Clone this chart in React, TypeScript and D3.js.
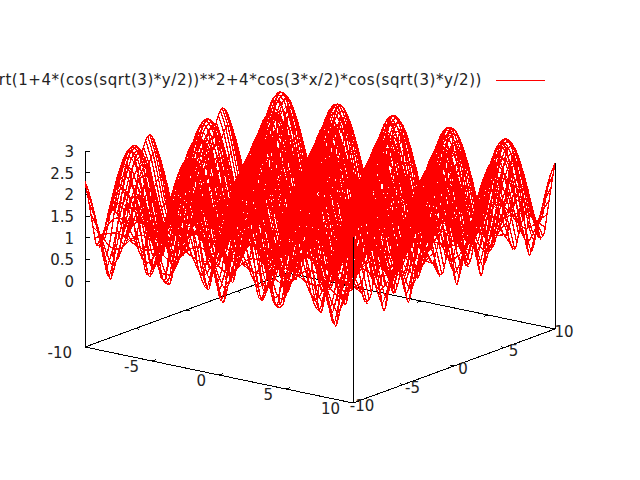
import React, { useRef, useEffect } from 'react';
import * as d3 from 'd3';

const title = 'sqrt(1+4*(cos(sqrt(3)*y/2))**2+4*cos(3*x/2)*cos(sqrt(3)*y/2))';

const xTicks = [-10, -5, 0, 5, 10];
const yTicks = [-10, -5, 0, 5, 10];
const zTicks = [0, 0.5, 1, 1.5, 2, 2.5, 3];

// sample positions for the x >= 0, y >= 0 quarter, the surface mirrors around both axes
const gridSteps = [0, 0.4, 0.8, 1.2, 1.6, 2, 2.4, 2.8, 3.2, 3.6, 4, 4.4, 4.8, 5.2, 5.6, 6, 6.4, 6.8, 7.2, 7.6, 8, 8.4, 8.8, 9.2, 9.6, 10];
// y positions of the extra isolines that run between the grid rows
const betweenSteps = [0.2, 0.6, 1, 1.4, 1.8, 2.2, 2.6, 3, 3.4, 3.8, 4.2, 4.6, 5, 5.4, 5.8, 6.2, 6.6, 7, 7.4, 7.8, 8.2, 8.6, 9, 9.4, 9.8];

// one row per y step, one column per x step
const zRows = [
  [3.00, 2.88, 2.54, 2.02, 1.43, 1.02, 1.19, 1.74, 2.31, 2.75, 2.97, 2.97, 2.73, 2.28, 1.71, 1.16, 1.03, 1.46, 2.06, 2.56, 2.89, 3.00, 2.87, 2.52, 1.99, 1.40],
  [2.88, 2.77, 2.43, 1.92, 1.33, 0.90, 1.08, 1.64, 2.21, 2.63, 2.86, 2.85, 2.61, 2.18, 1.61, 1.05, 0.91, 1.36, 1.95, 2.45, 2.78, 2.88, 2.75, 2.41, 1.89, 1.30],
  [2.54, 2.43, 2.12, 1.63, 1.05, 0.57, 0.78, 1.36, 1.91, 2.31, 2.51, 2.51, 2.29, 1.88, 1.33, 0.75, 0.58, 1.08, 1.66, 2.14, 2.44, 2.54, 2.42, 2.10, 1.60, 1.01],
  [2.01, 1.92, 1.66, 1.25, 0.73, 0.14, 0.46, 1.02, 1.48, 1.82, 1.99, 1.99, 1.80, 1.46, 0.99, 0.42, 0.17, 0.76, 1.28, 1.68, 1.93, 2.01, 1.91, 1.64, 1.22, 0.70],
  [1.37, 1.32, 1.18, 0.98, 0.77, 0.64, 0.69, 0.88, 1.09, 1.27, 1.36, 1.35, 1.26, 1.08, 0.87, 0.68, 0.64, 0.78, 1.00, 1.19, 1.33, 1.37, 1.31, 1.18, 0.97, 0.76],
  [0.68, 0.76, 0.93, 1.12, 1.25, 1.32, 1.29, 1.19, 1.02, 0.83, 0.70, 0.70, 0.84, 1.03, 1.20, 1.30, 1.32, 1.25, 1.11, 0.92, 0.75, 0.68, 0.77, 0.94, 1.13, 1.26],
  [0.03, 0.58, 1.11, 1.55, 1.84, 1.97, 1.92, 1.70, 1.33, 0.84, 0.28, 0.31, 0.87, 1.36, 1.72, 1.93, 1.97, 1.83, 1.52, 1.09, 0.55, 0.05, 0.61, 1.14, 1.57, 1.85],
  [0.51, 0.88, 1.48, 1.99, 2.34, 2.50, 2.44, 2.18, 1.73, 1.16, 0.61, 0.64, 1.20, 1.76, 2.20, 2.45, 2.50, 2.33, 1.96, 1.44, 0.85, 0.51, 0.91, 1.50, 2.01, 2.36],
  [0.86, 1.18, 1.77, 2.31, 2.69, 2.86, 2.80, 2.51, 2.04, 1.45, 0.95, 0.97, 1.49, 2.07, 2.53, 2.81, 2.85, 2.67, 2.28, 1.73, 1.15, 0.87, 1.21, 1.80, 2.33, 2.70],
  [1.00, 1.30, 1.88, 2.43, 2.82, 2.99, 2.93, 2.64, 2.15, 1.57, 1.08, 1.09, 1.60, 2.19, 2.66, 2.94, 2.99, 2.80, 2.40, 1.85, 1.27, 1.00, 1.33, 1.91, 2.46, 2.83],
  [0.90, 1.21, 1.80, 2.34, 2.72, 2.89, 2.83, 2.54, 2.07, 1.48, 0.98, 1.00, 1.51, 2.10, 2.56, 2.84, 2.89, 2.70, 2.31, 1.76, 1.18, 0.90, 1.24, 1.82, 2.36, 2.73],
  [0.57, 0.93, 1.53, 2.04, 2.40, 2.56, 2.51, 2.24, 1.79, 1.21, 0.67, 0.69, 1.25, 1.82, 2.26, 2.52, 2.56, 2.39, 2.02, 1.49, 0.90, 0.57, 0.96, 1.55, 2.07, 2.42],
  [0.05, 0.61, 1.16, 1.61, 1.91, 2.05, 2.00, 1.77, 1.39, 0.88, 0.29, 0.32, 0.91, 1.41, 1.79, 2.01, 2.05, 1.90, 1.59, 1.13, 0.57, 0.05, 0.64, 1.19, 1.63, 1.93],
  [0.58, 0.70, 0.93, 1.17, 1.34, 1.41, 1.39, 1.26, 1.05, 0.80, 0.61, 0.62, 0.82, 1.06, 1.27, 1.39, 1.41, 1.33, 1.15, 0.92, 0.69, 0.58, 0.71, 0.95, 1.18, 1.34],
  [1.27, 1.24, 1.13, 0.98, 0.82, 0.73, 0.76, 0.90, 1.06, 1.19, 1.27, 1.26, 1.19, 1.05, 0.89, 0.76, 0.73, 0.83, 0.98, 1.14, 1.24, 1.27, 1.23, 1.12, 0.97, 0.81],
  [1.93, 1.84, 1.59, 1.20, 0.70, 0.14, 0.44, 0.97, 1.42, 1.75, 1.91, 1.91, 1.73, 1.40, 0.95, 0.41, 0.17, 0.73, 1.23, 1.61, 1.85, 1.93, 1.83, 1.58, 1.17, 0.67],
  [2.48, 2.37, 2.06, 1.58, 1.00, 0.51, 0.73, 1.32, 1.85, 2.25, 2.45, 2.45, 2.23, 1.83, 1.28, 0.70, 0.52, 1.03, 1.62, 2.08, 2.38, 2.48, 2.36, 2.04, 1.55, 0.97],
  [2.85, 2.73, 2.40, 1.89, 1.30, 0.87, 1.05, 1.61, 2.17, 2.60, 2.82, 2.81, 2.58, 2.15, 1.58, 1.02, 0.88, 1.33, 1.92, 2.42, 2.74, 2.85, 2.72, 2.38, 1.86, 1.27],
  [3.00, 2.88, 2.54, 2.02, 1.43, 1.02, 1.19, 1.74, 2.31, 2.74, 2.97, 2.96, 2.72, 2.28, 1.71, 1.16, 1.03, 1.46, 2.05, 2.56, 2.89, 3.00, 2.87, 2.52, 1.99, 1.40],
  [2.91, 2.79, 2.46, 1.95, 1.36, 0.93, 1.11, 1.67, 2.23, 2.66, 2.89, 2.88, 2.64, 2.20, 1.63, 1.08, 0.94, 1.39, 1.98, 2.48, 2.81, 2.91, 2.78, 2.44, 1.91, 1.32],
  [2.60, 2.49, 2.17, 1.68, 1.10, 0.62, 0.83, 1.41, 1.96, 2.36, 2.57, 2.57, 2.34, 1.93, 1.38, 0.80, 0.64, 1.13, 1.71, 2.19, 2.50, 2.60, 2.48, 2.15, 1.65, 1.06],
  [2.10, 2.00, 1.73, 1.30, 0.76, 0.18, 0.48, 1.06, 1.55, 1.90, 2.07, 2.07, 1.88, 1.52, 1.03, 0.45, 0.20, 0.80, 1.33, 1.75, 2.01, 2.09, 1.99, 1.71, 1.27, 0.73],
  [1.46, 1.41, 1.24, 1.00, 0.73, 0.55, 0.62, 0.87, 1.14, 1.34, 1.45, 1.45, 1.33, 1.12, 0.86, 0.61, 0.55, 0.74, 1.02, 1.26, 1.41, 1.46, 1.40, 1.23, 0.99, 0.72],
  [0.77, 0.82, 0.94, 1.07, 1.18, 1.22, 1.21, 1.13, 1.01, 0.87, 0.79, 0.79, 0.88, 1.01, 1.13, 1.21, 1.22, 1.17, 1.07, 0.93, 0.82, 0.77, 0.83, 0.95, 1.08, 1.18],
  [0.11, 0.57, 1.07, 1.48, 1.76, 1.89, 1.84, 1.63, 1.28, 0.81, 0.29, 0.32, 0.84, 1.30, 1.65, 1.85, 1.88, 1.75, 1.46, 1.04, 0.54, 0.12, 0.60, 1.09, 1.50, 1.77],
  [0.44, 0.84, 1.43, 1.93, 2.28, 2.44, 2.38, 2.12, 1.68, 1.12, 0.56, 0.58, 1.15, 1.71, 2.14, 2.39, 2.44, 2.27, 1.91, 1.40, 0.80, 0.44, 0.87, 1.46, 1.96, 2.30],
];

// one row per betweenSteps entry, same columns as zRows
const zBetweenRows = [
  [2.97, 2.85, 2.51, 2.00, 1.41, 0.99, 1.16, 1.72, 2.29, 2.72, 2.94, 2.94, 2.70, 2.26, 1.68, 1.14, 1.00, 1.44, 2.03, 2.54, 2.86, 2.97, 2.84, 2.49, 1.96, 1.37],
  [2.74, 2.62, 2.30, 1.80, 1.21, 0.76, 0.95, 1.52, 2.08, 2.49, 2.71, 2.70, 2.47, 2.05, 1.49, 0.92, 0.77, 1.24, 1.83, 2.32, 2.64, 2.74, 2.61, 2.27, 1.76, 1.17],
  [2.30, 2.19, 1.90, 1.45, 0.88, 0.34, 0.60, 1.19, 1.70, 2.08, 2.27, 2.27, 2.06, 1.68, 1.15, 0.56, 0.36, 0.91, 1.48, 1.92, 2.21, 2.30, 2.18, 1.88, 1.42, 0.84],
  [1.70, 1.63, 1.41, 1.08, 0.68, 0.32, 0.48, 0.90, 1.27, 1.54, 1.69, 1.68, 1.53, 1.25, 0.87, 0.46, 0.33, 0.70, 1.11, 1.43, 1.64, 1.70, 1.62, 1.40, 1.06, 0.65],
  [1.02, 1.02, 1.01, 0.99, 0.98, 0.98, 0.98, 0.99, 1.00, 1.02, 1.02, 1.02, 1.01, 1.00, 0.99, 0.98, 0.98, 0.98, 1.00, 1.01, 1.02, 1.02, 1.02, 1.01, 0.99, 0.98],
  [0.34, 0.59, 0.98, 1.31, 1.55, 1.65, 1.61, 1.44, 1.15, 0.77, 0.41, 0.43, 0.79, 1.17, 1.45, 1.62, 1.65, 1.54, 1.30, 0.96, 0.57, 0.34, 0.61, 1.00, 1.33, 1.56],
  [0.26, 0.71, 1.29, 1.78, 2.11, 2.25, 2.20, 1.95, 1.54, 0.99, 0.41, 0.44, 1.03, 1.56, 1.97, 2.21, 2.25, 2.09, 1.75, 1.26, 0.68, 0.26, 0.74, 1.32, 1.80, 2.12],
  [0.71, 1.05, 1.64, 2.17, 2.54, 2.71, 2.65, 2.37, 1.91, 1.33, 0.80, 0.82, 1.36, 1.94, 2.39, 2.66, 2.70, 2.53, 2.14, 1.61, 1.02, 0.71, 1.08, 1.67, 2.20, 2.56],
  [0.96, 1.27, 1.85, 2.40, 2.78, 2.96, 2.89, 2.60, 2.12, 1.54, 1.04, 1.06, 1.57, 2.15, 2.62, 2.90, 2.95, 2.77, 2.37, 1.82, 1.24, 0.96, 1.30, 1.88, 2.42, 2.80],
  [0.98, 1.28, 1.87, 2.41, 2.80, 2.97, 2.91, 2.62, 2.14, 1.55, 1.06, 1.07, 1.58, 2.17, 2.64, 2.92, 2.97, 2.78, 2.38, 1.83, 1.25, 0.98, 1.31, 1.90, 2.44, 2.81],
  [0.76, 1.09, 1.68, 2.21, 2.59, 2.75, 2.69, 2.41, 1.95, 1.36, 0.85, 0.87, 1.40, 1.98, 2.43, 2.70, 2.75, 2.57, 2.19, 1.65, 1.06, 0.76, 1.12, 1.71, 2.24, 2.60],
  [0.34, 0.76, 1.35, 1.84, 2.18, 2.33, 2.28, 2.02, 1.60, 1.04, 0.47, 0.50, 1.08, 1.63, 2.04, 2.28, 2.33, 2.17, 1.82, 1.32, 0.73, 0.34, 0.79, 1.38, 1.87, 2.19],
  [0.25, 0.57, 1.01, 1.38, 1.63, 1.74, 1.70, 1.51, 1.19, 0.78, 0.35, 0.37, 0.81, 1.21, 1.53, 1.71, 1.74, 1.62, 1.36, 0.98, 0.55, 0.26, 0.59, 1.03, 1.39, 1.64],
  [0.93, 0.94, 0.98, 1.02, 1.05, 1.07, 1.06, 1.04, 1.00, 0.96, 0.93, 0.93, 0.96, 1.00, 1.04, 1.07, 1.07, 1.05, 1.02, 0.97, 0.94, 0.93, 0.94, 0.98, 1.02, 1.06],
  [1.61, 1.54, 1.35, 1.05, 0.69, 0.40, 0.53, 0.88, 1.22, 1.47, 1.59, 1.59, 1.45, 1.20, 0.86, 0.51, 0.41, 0.71, 1.07, 1.36, 1.55, 1.61, 1.54, 1.33, 1.03, 0.67],
  [2.22, 2.12, 1.84, 1.39, 0.83, 0.27, 0.55, 1.14, 1.64, 2.01, 2.20, 2.19, 1.99, 1.62, 1.10, 0.51, 0.29, 0.86, 1.42, 1.86, 2.13, 2.22, 2.11, 1.82, 1.36, 0.80],
  [2.68, 2.57, 2.25, 1.75, 1.16, 0.71, 0.90, 1.48, 2.03, 2.44, 2.66, 2.65, 2.43, 2.00, 1.44, 0.88, 0.72, 1.20, 1.78, 2.27, 2.58, 2.68, 2.56, 2.23, 1.72, 1.13],
  [2.95, 2.83, 2.49, 1.98, 1.39, 0.97, 1.14, 1.70, 2.27, 2.70, 2.93, 2.92, 2.68, 2.24, 1.67, 1.12, 0.98, 1.42, 2.01, 2.52, 2.85, 2.95, 2.82, 2.47, 1.95, 1.36],
  [2.98, 2.87, 2.52, 2.01, 1.42, 1.00, 1.17, 1.73, 2.30, 2.73, 2.96, 2.95, 2.71, 2.27, 1.69, 1.15, 1.01, 1.45, 2.04, 2.55, 2.88, 2.98, 2.85, 2.50, 1.98, 1.39],
  [2.78, 2.67, 2.34, 1.83, 1.24, 0.80, 0.99, 1.56, 2.12, 2.54, 2.76, 2.75, 2.52, 2.09, 1.52, 0.96, 0.82, 1.28, 1.87, 2.36, 2.68, 2.78, 2.66, 2.32, 1.80, 1.21],
  [2.37, 2.26, 1.96, 1.50, 0.92, 0.40, 0.65, 1.24, 1.76, 2.15, 2.34, 2.34, 2.13, 1.74, 1.20, 0.62, 0.42, 0.96, 1.53, 1.99, 2.28, 2.37, 2.25, 1.95, 1.47, 0.89],
  [1.79, 1.71, 1.48, 1.12, 0.68, 0.24, 0.45, 0.92, 1.33, 1.62, 1.77, 1.77, 1.61, 1.31, 0.90, 0.43, 0.26, 0.70, 1.15, 1.50, 1.72, 1.79, 1.70, 1.47, 1.10, 0.65],
  [1.12, 1.10, 1.05, 0.98, 0.91, 0.88, 0.89, 0.95, 1.02, 1.08, 1.12, 1.11, 1.08, 1.01, 0.94, 0.89, 0.88, 0.92, 0.98, 1.05, 1.10, 1.12, 1.10, 1.05, 0.98, 0.91],
  [0.43, 0.62, 0.95, 1.26, 1.47, 1.56, 1.53, 1.37, 1.11, 0.78, 0.48, 0.49, 0.79, 1.12, 1.38, 1.53, 1.56, 1.46, 1.24, 0.93, 0.60, 0.43, 0.64, 0.97, 1.27, 1.48],
  [0.18, 0.67, 1.24, 1.71, 2.04, 2.18, 2.13, 1.89, 1.48, 0.95, 0.36, 0.39, 0.98, 1.51, 1.91, 2.14, 2.18, 2.02, 1.69, 1.21, 0.63, 0.19, 0.70, 1.27, 1.74, 2.05],
];

const App: React.FC = () => {
  const svgRef = useRef<SVGSVGElement | null>(null);

  useEffect(() => {
    if (!svgRef.current) return;
    const svg = d3.select(svgRef.current);
    svg.selectAll('*').remove();

    // the view is a fixed oblique projection, so each axis adds its own screen offset
    const xToLeft = d3.scaleLinear().domain([-10, 10]).range([0, 268]);
    const xToTop = d3.scaleLinear().domain([-10, 10]).range([0, 56]);
    const yToLeft = d3.scaleLinear().domain([-10, 10]).range([0, 202]);
    const yToTop = d3.scaleLinear().domain([-10, 10]).range([0, -74]);
    const zToTop = d3.scaleLinear().domain([0, 3]).range([0, -130]);
    const zBase = -1.52;

    const project = (x: number, y: number, z: number): [number, number] => [
      85 + xToLeft(x) + yToLeft(y),
      347 + xToTop(x) + yToTop(y) + zToTop(z) - zToTop(zBase),
    ];

    // mirror the quarter table to the full -10..10 grid
    const axisValues = [...gridSteps.slice(1).reverse().map((d) => -d), ...gridSteps];
    const mirrorRow = (row: number[]) => [...row.slice(1).reverse(), ...row];
    const zGrid = mirrorRow(zRows.map((_, i) => i)).map((i) => mirrorRow(zRows[i]));

    const line = d3.line<[number, number]>().curve(d3.curveCatmullRom);

    const segment = (g: d3.Selection<SVGGElement, unknown, null, undefined>, a: [number, number], b: [number, number]) => {
      g.append('line')
        .attr('x1', a[0])
        .attr('y1', a[1])
        .attr('x2', b[0])
        .attr('y2', b[1])
        .attr('stroke', '#000')
        .attr('stroke-width', 1);
    };

    // Base frame, it sits under the surface
    const frame = svg.append('g').attr('shape-rendering', 'crispEdges');
    segment(frame, project(-10, -10, zBase), project(10, -10, zBase));
    segment(frame, project(10, -10, zBase), project(10, 10, zBase));
    segment(frame, project(10, 10, zBase), project(-10, 10, zBase));
    segment(frame, project(-10, 10, zBase), project(-10, -10, zBase));

    xTicks.slice(1, -1).forEach((t) => {
      segment(frame, project(t, -10, zBase), project(t, -9.6, zBase));
      segment(frame, project(t, 10, zBase), project(t, 9.6, zBase));
    });
    yTicks.slice(1, -1).forEach((t) => {
      segment(frame, project(10, t, zBase), project(9.7, t, zBase));
      segment(frame, project(-10, t, zBase), project(-9.7, t, zBase));
    });

    // z axis
    segment(frame, project(-10, -10, zBase), project(-10, -10, 3));
    zTicks.forEach((t) => {
      const p = project(-10, -10, t);
      segment(frame, p, [p[0] + 5, p[1]]);
    });

    // Surface: one polyline per row and per column of the grid
    const surface = svg.append('g')
      .attr('fill', 'none')
      .attr('stroke', '#ff0000')
      .attr('stroke-width', 1.3)
      .attr('shape-rendering', 'crispEdges');
    zGrid.forEach((row, j) => {
      surface.append('path').attr('d', line(row.map((z, i) => project(axisValues[i], axisValues[j], z))));
    });
    axisValues.forEach((x, i) => {
      surface.append('path').attr('d', line(zGrid.map((row, j) => project(x, axisValues[j], row[i]))));
    });
    // extra isolines, both signs of y
    zBetweenRows.forEach((row, j) => {
      const full = mirrorRow(row);
      [betweenSteps[j], -betweenSteps[j]].forEach((y) => {
        surface.append('path').attr('d', line(full.map((z, i) => project(axisValues[i], y, z))));
      });
    });

    // Corner poles run from the base up to the surface
    const poles = svg.append('g').attr('shape-rendering', 'crispEdges');
    const last = axisValues.length - 1;
    segment(poles, project(10, -10, zBase), project(10, -10, zGrid[0][last]));
    segment(poles, project(10, 10, zBase), project(10, 10, zGrid[last][last]));

    // Labels
    const labels = svg.append('g')
      .attr('font-family', '"DejaVu Sans", sans-serif')
      .attr('font-size', 15)
      .attr('fill', '#222');

    zTicks.forEach((t) => {
      const p = project(-10, -10, t);
      labels.append('text')
        .attr('x', p[0] - 11)
        .attr('y', p[1] + 6)
        .attr('text-anchor', 'end')
        .text(String(t));
    });
    xTicks.forEach((t) => {
      const p = project(t, -10, zBase);
      labels.append('text')
        .attr('x', p[0] - 13)
        .attr('y', p[1] + 11)
        .attr('text-anchor', 'end')
        .text(String(t));
    });
    yTicks.forEach((t) => {
      const p = project(10, t, zBase);
      labels.append('text')
        .attr('x', p[0] + 9)
        .attr('y', p[1] + 8)
        .attr('text-anchor', 'middle')
        .text(String(t));
    });

    // Key
    labels.append('text')
      .attr('x', 482)
      .attr('y', 85)
      .attr('text-anchor', 'end')
      .attr('letter-spacing', 0.55)
      .text(title);
    svg.append('line')
      .attr('x1', 496)
      .attr('y1', 80)
      .attr('x2', 545)
      .attr('y2', 80)
      .attr('stroke', '#ff0000')
      .attr('stroke-width', 1)
      .attr('shape-rendering', 'crispEdges');
  }, []);

  return (
    <svg
      ref={svgRef}
      width={640}
      height={480}
      style={{ position: 'absolute', left: 0, top: 0, background: '#fff' }}
    />
  );
};

export default App;
